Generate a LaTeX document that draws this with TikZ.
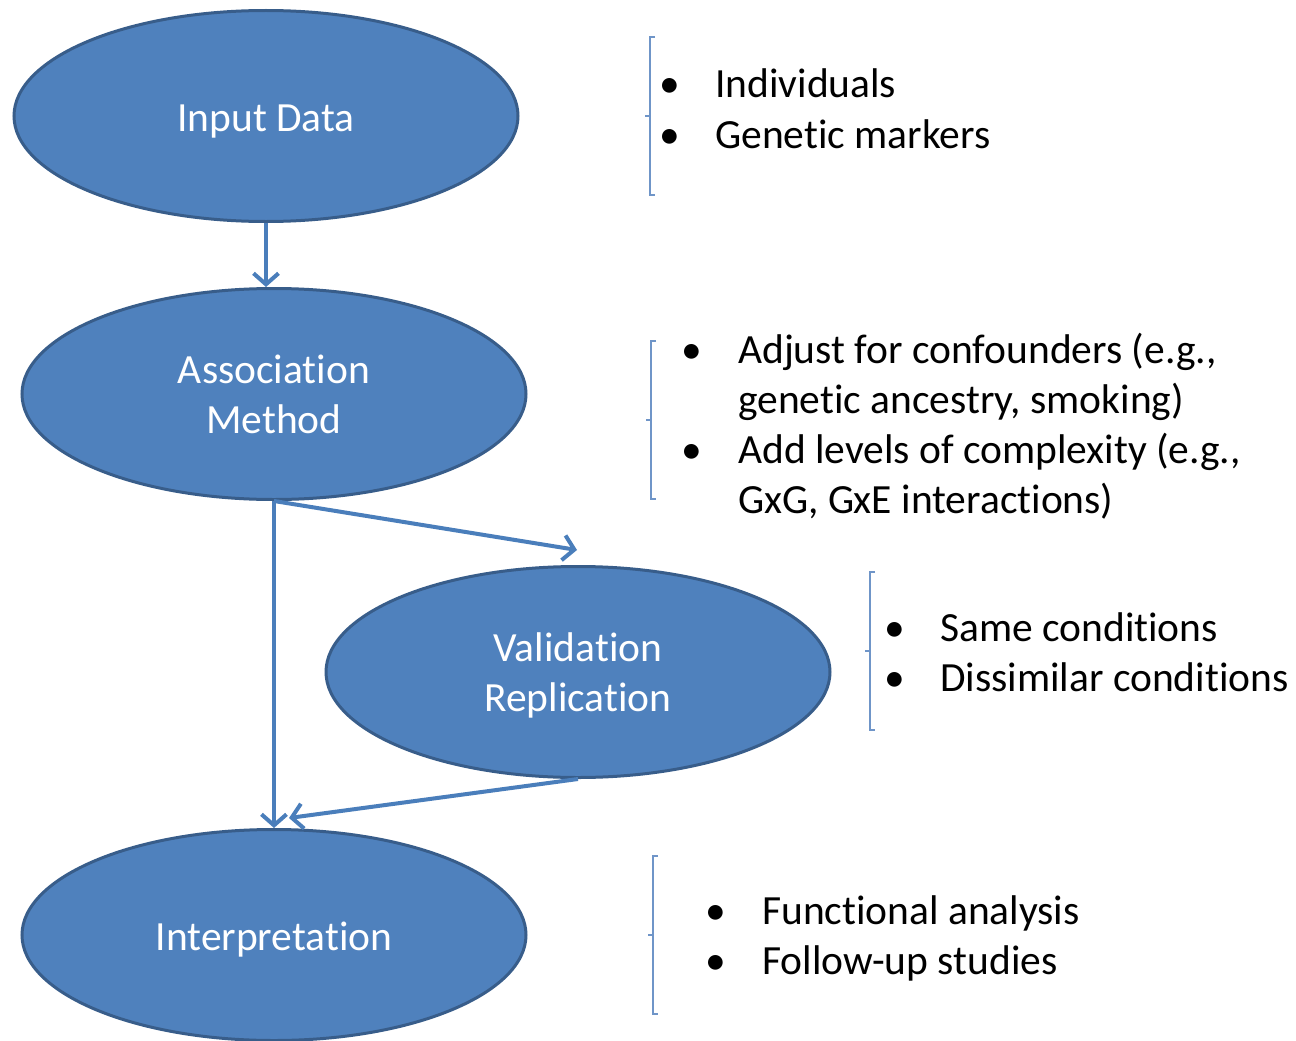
\documentclass[tikz,border=0pt]{standalone}
\usepackage{fontspec}
\setmainfont[RawFeature={-liga;-clig;-calt;-dlig}]{Carlito}
\usetikzlibrary{shapes.geometric,arrows.meta}
\definecolor{ofill}{HTML}{4F81BD}
\definecolor{oline}{HTML}{385D8A}
\definecolor{oarrow}{HTML}{4A7EBB}
\definecolor{obrack}{HTML}{6F95C8}
\begin{document}
\begin{tikzpicture}[x=1pt,y=-1pt,
  blob/.style={ellipse, draw=oline, line width=3pt, fill=ofill, minimum width=504pt, minimum height=211pt, inner sep=0pt, text=white, align=center, font=\fontsize{41.5}{50}\selectfont},
  oneline/.style={text height=38pt, text depth=8pt},
  conn/.style={draw=oarrow, line width=4pt, -{Straight Barb[length=11pt,width=25pt]}},
  brack/.style={draw=obrack, line width=1.4pt},
  bul/.style={anchor=base, font=\fontsize{41.5}{50}\selectfont},
  btxt/.style={anchor=base west, align=left, inner sep=0pt, font=\fontsize{41.5}{50}\selectfont}]
\useasboundingbox (0,0) rectangle (1296,1041);
\fill[white] (0,0) rectangle (1296,1041);

\node[blob,oneline] (in) at (266,116) {Input Data};
\node[blob] (as) at (274,394) {Association\\Method};
\node[blob,text depth=0pt] (va) at (578,672) {Validation\\Replication};
\node[blob,oneline] (it) at (274,935) {Interpretation};

\coordinate (vtip) at (577,550);
\coordinate (itip) at (289,818);
\draw[conn] (in.south) -- (in.south |- as.north);
\draw[conn] (as.south) -- (vtip);
\draw[conn] (as.south) -- (it.north);
\draw[conn] (va.south) -- (itip);

% brackets
\draw[brack] (655,37) -- (650,37) -- (650,195) -- (655,195);
\draw[brack] (650,116) -- (645,116);
\draw[brack] (656,341) -- (651,341) -- (651,499) -- (656,499);
\draw[brack] (651,420) -- (646,420);
\draw[brack] (875,572) -- (870,572) -- (870,730) -- (875,730);
\draw[brack] (870,651) -- (865,651);
\draw[brack] (658,856) -- (653,856) -- (653,1014) -- (658,1014);
\draw[brack] (653,935) -- (648,935);

% bullet texts
\node[bul] (b1a) at (670,98) {•};
\node[btxt] (t1a) at (715,98) {Individuals};
\node[bul] (b1b) at (670,148) {•};
\node[btxt] (t1b) at (715,148) {Genetic markers};

\node[bul] (b2a) at (692,363) {•};
\node[btxt] (t2a) at (738,413) {Adjust for confounders (e.g.,\\genetic ancestry, smoking)};
\node[bul] (b2b) at (692,463) {•};
\node[btxt] (t2b) at (738,513) {Add levels of complexity (e.g.,\\GxG, GxE interactions)};

\node[bul] (b3a) at (895,641) {•};
\node[btxt] (t3a) at (940,641) {Same conditions};
\node[bul] (b3b) at (895,691) {•};
\node[btxt] (t3b) at (940,691) {Dissimilar conditions};

\node[bul] (b4a) at (716,924) {•};
\node[btxt] (t4a) at (762,924) {Functional analysis};
\node[bul] (b4b) at (716,974) {•};
\node[btxt] (t4b) at (762,974) {Follow-up studies};
\end{tikzpicture}
\end{document}
